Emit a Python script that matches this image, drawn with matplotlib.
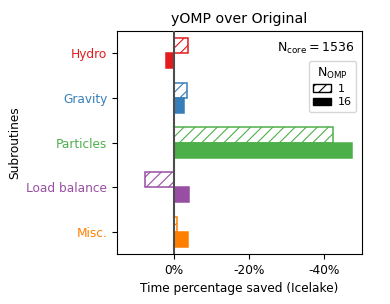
import matplotlib.pyplot as plt
import matplotlib.patches as mpatches
import numpy as np

subrutinas = ['Hydro', 'Gravity', 'Particles', 'Load balance', 'Misc.']
colores = ['#e41a1c', '#377eb8', '#4daf4a', '#984ea3', '#ff7f00']
omp_1 = [3.7, 3.5, 42.4, -7.7, 0.8]
omp_16 = [-2.1, 2.7, 47.5, 4.0, 3.7]
xticks = [0, 20, 40]
xtick_labels = ['0%', '-20%', '-40%']

plt.rcParams['hatch.linewidth'] = 0.8
plt.rcParams['font.size'] = 8.7

fig, ax = plt.subplots(figsize=(3.9, 3.04), dpi=100)
y = np.arange(len(subrutinas))
h = 0.34

# barras rayadas (1 hilo) y solidas (16 hilos)
ax.barh(y - h/2, omp_1, height=h, color='white', edgecolor=colores,
        hatch='///', linewidth=1.1)
ax.barh(y + h/2, omp_16, height=h, color=colores, edgecolor=colores, linewidth=1.1)

ax.axvline(x=0, color='0.3', linewidth=1.5, zorder=10)

ax.set_yticks(y)
ax.set_yticklabels(subrutinas)
for lab, c in zip(ax.get_yticklabels(), colores):
    lab.set_color(c)
ax.set_ylim(4.5, -0.5)
ax.set_xlim(-15.2, 50.1)
ax.set_xticks(xticks)
ax.set_xticklabels(xtick_labels)
ax.set_ylabel('Subroutines')
ax.set_xlabel('Time percentage saved (Icelake)')
ax.set_title('yOMP over Original', fontsize=10.2)

ax.text(0.97, 0.955, r'$\mathrm{N_{core}=1536}$', transform=ax.transAxes,
        ha='right', va='top', fontsize=9)

# leyenda
p1 = mpatches.Patch(facecolor='white', edgecolor='k', hatch='///', label='1')
p16 = mpatches.Patch(facecolor='k', edgecolor='k', label='16')
ax.legend(handles=[p1, p16], title=r'$\mathrm{N_{OMP}}$', loc='upper right',
          bbox_to_anchor=(1.0, 0.89), fontsize=8, title_fontsize=9,
          handlelength=1.6, handleheight=0.7, handletextpad=0.6,
          borderpad=0.4, labelspacing=0.3)

plt.subplots_adjust(left=0.30, right=0.928, top=0.898, bottom=0.164)
plt.savefig('out.png')
